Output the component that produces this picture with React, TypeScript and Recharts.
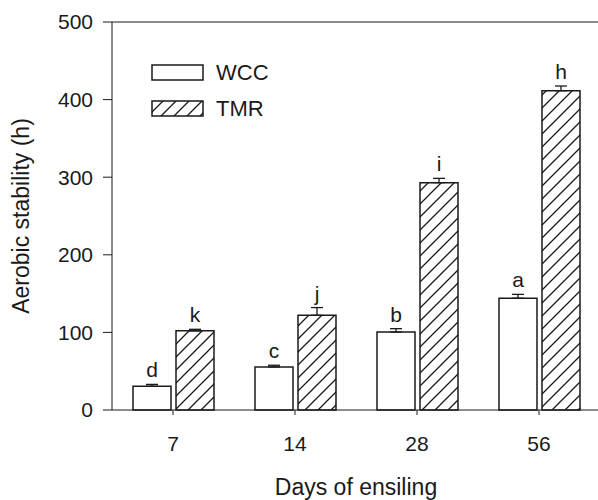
import {
  Bar,
  BarChart,
  ErrorBar,
  Label,
  LabelList,
  ReferenceLine,
  XAxis,
  YAxis,
} from "recharts";

const days = ["7", "14", "28", "56"];
const wccValues = [30.5, 55.5, 100.5, 144];
const wccErrors = [2.5, 2.2, 4.3, 5];
const tmrValues = [102, 122, 293, 411.5];
const tmrErrors = [2, 10, 5.5, 6];
const wccLetters = ["d", "c", "b", "a"];
const tmrLetters = ["k", "j", "i", "h"];
const yTicks = [0, 100, 200, 300, 400, 500];

const data = days.map((day, i) => ({
  day,
  WCC: wccValues[i],
  wccErr: [0, wccErrors[i]],
  TMR: tmrValues[i],
  tmrErr: [0, tmrErrors[i]],
}));

const FONT = '"Liberation Sans", Arial, sans-serif';
const INK = "#1a1a1a";

const legendItems = [
  { name: "WCC", fill: "#fff" },
  { name: "TMR", fill: "url(#hatch)" },
];

function letterLabel(letters: string[], errors: number[]) {
  return (props: any) => {
    const vb = props.viewBox ?? props;
    const { x, y, width, height } = vb;
    const index = props.index ?? 0;
    const value = Number(props.value);
    const pxPerUnit = value ? height / value : 0;
    const top = y - errors[index] * pxPerUnit;
    return (
      <text
        x={x + width / 2}
        y={top - 7}
        textAnchor="middle"
        fontSize={21}
        fontFamily={FONT}
        fill={INK}
      >
        {letters[index]}
      </text>
    );
  };
}

function LegendBox() {
  return (
    <div
      style={{
        position: "absolute",
        left: 151,
        top: 64,
        fontFamily: FONT,
        fontSize: 22,
        color: INK,
      }}
    >
      {legendItems.map((item) => (
        <div
          key={item.name}
          style={{ display: "flex", alignItems: "center", height: 17, marginBottom: 19 }}
        >
          <svg width={53} height={17} style={{ display: "block" }}>
            <rect x={1} y={1} width={51} height={15} fill={item.fill} stroke={INK} strokeWidth={1.5} />
          </svg>
          <span style={{ marginLeft: 12, lineHeight: "17px" }}>{item.name}</span>
        </div>
      ))}
    </div>
  );
}

export default function App() {
  return (
    <div style={{ width: 598, height: 500, overflow: "hidden", position: "relative" }}>
      <style>{"body{margin:0}"}</style>
      <BarChart
        width={610}
        height={500}
        data={data}
        margin={{ top: 22, right: 10, left: 0, bottom: 0 }}
        barSize={38}
        barGap={5}
      >
        <defs>
          <pattern id="hatch" patternUnits="userSpaceOnUse" width={13} height={13}>
            <rect width={13} height={13} fill="#fff" />
            <path d="M-1,1 l2,-2 M0,13 l13,-13 M12,14 l2,-2" stroke={INK} strokeWidth={1.3} />
          </pattern>
        </defs>
        <XAxis
          dataKey="day"
          height={90}
          tickSize={5}
          tickMargin={21}
          stroke={INK}
          tick={{ fill: INK, fontSize: 21, fontFamily: FONT }}
        >
          <Label
            value="Days of ensiling"
            position="center"
            dy={32}
            fill={INK}
            fontSize={23}
            fontFamily={FONT}
          />
        </XAxis>
        <YAxis
          domain={[0, 500]}
          ticks={yTicks}
          width={112}
          tickSize={9}
          tickMargin={10}
          stroke={INK}
          tick={{ fill: INK, fontSize: 21, fontFamily: FONT }}
        >
          <Label
            value="Aerobic stability (h)"
            position="center"
            angle={-90}
            dx={-35}
            fill={INK}
            fontSize={23}
            fontFamily={FONT}
          />
        </YAxis>
        <ReferenceLine y={500} stroke={INK} strokeWidth={1} />
        <Bar dataKey="WCC" fill="#fff" stroke={INK} strokeWidth={1.5} isAnimationActive={false}>
          <ErrorBar dataKey="wccErr" width={6} stroke={INK} strokeWidth={1.3} />
          <LabelList dataKey="WCC" content={letterLabel(wccLetters, wccErrors)} />
        </Bar>
        <Bar dataKey="TMR" fill="url(#hatch)" stroke={INK} strokeWidth={1.5} isAnimationActive={false}>
          <ErrorBar dataKey="tmrErr" width={6} stroke={INK} strokeWidth={1.3} />
          <LabelList dataKey="TMR" content={letterLabel(tmrLetters, tmrErrors)} />
        </Bar>
      </BarChart>
      <LegendBox />
    </div>
  );
}
